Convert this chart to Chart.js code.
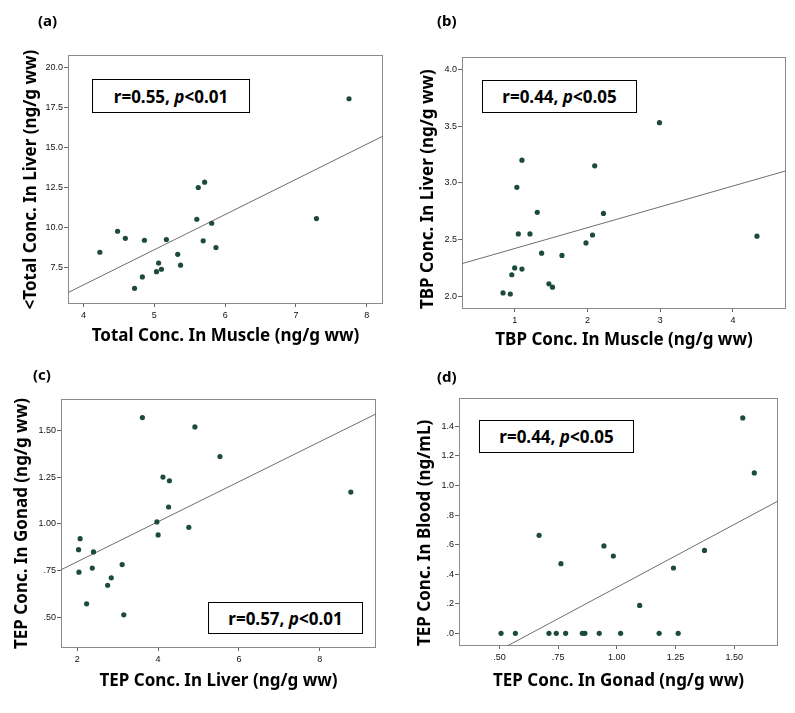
<!DOCTYPE html>
<html><head><meta charset="utf-8">
<script src="https://cdn.jsdelivr.net/npm/chart.js@4.4.1/dist/chart.umd.min.js"></script>
<style>
html,body{margin:0;padding:0;background:#fff;}
#wrap{position:relative;width:795px;height:713px;overflow:hidden;background:#fff;}
canvas{position:absolute;}
.lbl{position:absolute;font-family:"Noto Sans",sans-serif;font-weight:bold;font-size:15px;line-height:16px;color:#000;}
.box{position:absolute;border:1px solid #000;background:#fff;box-sizing:border-box;display:flex;align-items:center;justify-content:center;font-family:"Noto Sans",sans-serif;font-weight:bold;font-size:17px;white-space:nowrap;color:#000;}
</style></head>
<body><div id="wrap">
<canvas id="ca" width="397" height="355" style="left:0;top:0"></canvas>
<canvas id="cb" width="398" height="355" style="left:397px;top:0"></canvas>
<canvas id="cc" width="397" height="358" style="left:0;top:355px"></canvas>
<canvas id="cd" width="398" height="358" style="left:397px;top:355px"></canvas>
<div class="lbl" style="left:38px;top:12px">(a)</div>
<div class="lbl" style="left:437px;top:12px">(b)</div>
<div class="lbl" style="left:33px;top:366px">(c)</div>
<div class="lbl" style="left:437px;top:368px">(d)</div>
<div class="box" style="left:92px;top:79px;width:158px;height:34px">r=0.55,&nbsp;<i>p</i>&lt;0.01</div>
<div class="box" style="left:482px;top:80px;width:155px;height:33px">r=0.44,&nbsp;<i>p</i>&lt;0.05</div>
<div class="box" style="left:208px;top:602px;width:155px;height:32px">r=0.57,&nbsp;<i>p</i>&lt;0.01</div>
<div class="box" style="left:479px;top:420px;width:155px;height:33px">r=0.44,&nbsp;<i>p</i>&lt;0.05</div>
</div>
<script>
// ---------- (a) Total: muscle vs liver ----------
const aMuscle = [4.23,4.48,4.59,4.86,4.72,4.83,5.03,5.10,5.06,5.17,5.33,5.37,5.60,5.62,5.71,5.69,5.81,5.87,7.29,7.75];
const aLiver  = [8.48,9.79,9.35,9.23,6.23,6.94,7.27,7.42,7.81,9.27,8.35,7.67,10.54,12.52,12.85,9.19,10.29,8.77,10.58,18.06];
const aFitX = [3.78, 8.23];
const aFitY = [5.96, 15.73];
const aXTicks = [4,5,6,7,8];
const aXTickLabels = ['4','5','6','7','8'];
const aYTicks = [7.5,10,12.5,15,17.5,20];
const aYTickLabels = ['7.5','10.0','12.5','15.0','17.5','20.0'];

// ---------- (b) TBP: muscle vs liver ----------
const bMuscle = [0.84,0.94,0.96,1.00,1.10,1.05,1.03,1.10,1.21,1.31,1.37,1.47,1.52,1.65,1.98,2.07,2.10,2.22,2.99,4.33];
const bLiver  = [2.03,2.02,2.19,2.25,2.24,2.55,2.96,3.20,2.55,2.74,2.38,2.11,2.08,2.36,2.47,2.54,3.15,2.73,3.53,2.53];
const bFitX = [0.276, 4.729];
const bFitY = [2.288, 3.106];
const bXTicks = [1,2,3,4];
const bXTickLabels = ['1','2','3','4'];
const bYTicks = [2.0,2.5,3.0,3.5,4.0];
const bYTickLabels = ['2.0','2.5','3.0','3.5','4.0'];

// ---------- (c) TEP: liver vs gonad ----------
const cLiver = [2.03,2.07,2.04,2.23,2.37,2.40,2.75,2.84,3.11,3.15,3.61,3.97,4.00,4.12,4.26,4.28,4.76,4.91,5.53,8.77];
const cGonad = [0.862,0.921,0.741,0.571,0.763,0.850,0.671,0.711,0.782,0.512,1.571,1.011,0.941,1.252,1.091,1.232,0.982,1.521,1.362,1.171];
const cFitX = [1.596, 9.393];
const cFitY = [0.754, 1.591];
const cXTicks = [2,4,6,8];
const cXTickLabels = ['2','4','6','8'];
const cYTicks = [0.5,0.75,1.0,1.25,1.5];
const cYTickLabels = ['.50','.75','1.00','1.25','1.50'];

// ---------- (d) TEP: gonad vs blood ----------
const dGonad = [0.507,0.568,0.669,0.711,0.742,0.762,0.782,0.853,0.864,0.925,0.945,0.985,1.016,1.097,1.180,1.241,1.261,1.373,1.536,1.585];
const dBlood = [0,0,0.663,0,0,0.471,0,0,0,0,0.591,0.523,0,0.189,0,0.442,0,0.561,1.457,1.085];
const dFitX = [0.533, 1.686];
const dFitY = [-0.0857, 0.895];
const dXTicks = [0.5,0.75,1.0,1.25,1.5];
const dXTickLabels = ['.50','.75','1.00','1.25','1.50'];
const dYTicks = [0,0.2,0.4,0.6,0.8,1.0,1.2,1.4];
const dYTickLabels = ['.0','.2','.4','.6','.8','1.0','1.2','1.4'];

const TITLE_FONT = {family:'"Noto Sans", sans-serif', size:17, weight:'bold', lineHeight:1.2};
const TICK_FONT = {family:'"Liberation Sans", Arial, sans-serif', size:9};
const DOT = '#1d4b3b';

const boxPlugin = {
  id:'plotBox',
  beforeDatasetsDraw(chart){
    const {ctx, chartArea:a} = chart;
    ctx.save();
    ctx.strokeStyle = '#8a8a8a';
    ctx.lineWidth = 1;
    ctx.strokeRect(Math.round(a.left)+0.5, Math.round(a.top)+0.5, Math.round(a.right-a.left)-1, Math.round(a.bottom-a.top)-1);
    ctx.restore();
  }
};

function makePanel(id, p){
  const pts = p.xs.map((x,i)=>({x:x, y:p.ys[i]}));
  const fit = p.fx.map((x,i)=>({x:x, y:p.fy[i]}));
  new Chart(document.getElementById(id), {
    type:'scatter',
    data:{datasets:[
      {type:'line', data:fit, borderColor:'#6e6e6e', borderWidth:1, pointRadius:0, fill:false, tension:0, order:2},
      {data:pts, backgroundColor:DOT, borderColor:DOT, borderWidth:0, pointRadius:2.6, pointHoverRadius:2.6, order:1}
    ]},
    options:{
      responsive:false, devicePixelRatio:1, animation:false,
      layout:{padding:{left:0, top:p.padTop, right:p.padRight, bottom:0}},
      plugins:{legend:{display:false}, tooltip:{enabled:false}},
      events:[],
      scales:{
        x:{
          type:'linear', min:p.xmin, max:p.xmax,
          afterBuildTicks:s=>{ s.ticks = p.xt.map(v=>({value:v})); },
          afterFit:s=>{ s.height = p.xH; },
          ticks:{font:TICK_FONT, color:'#111', padding:3, maxRotation:0, autoSkip:false,
                 callback:(v,i)=>p.xl[i]},
          grid:{display:true, drawOnChartArea:false, drawTicks:true, tickLength:3, color:'#666'},
          border:{display:false},
          title:{display:true, text:p.xTitle, font:TITLE_FONT, color:'#000', padding:{top:0, bottom:p.xTitlePad}}
        },
        y:{
          type:'linear', min:p.ymin, max:p.ymax,
          afterBuildTicks:s=>{ s.ticks = p.yt.map(v=>({value:v})); },
          afterFit:s=>{ s.width = p.yW; },
          ticks:{font:TICK_FONT, color:'#111', padding:1, autoSkip:false,
                 callback:(v,i)=>p.yl[i]},
          grid:{display:true, drawOnChartArea:false, drawTicks:true, tickLength:4, color:'#666'},
          border:{display:false},
          title:{display:true, text:p.yTitle, font:TITLE_FONT, color:'#000', align:p.yAlign,
                 padding:{top:p.yTitlePad, bottom:0}}
        }
      }
    },
    plugins:[boxPlugin]
  });
}

makePanel('ca', {xs:aMuscle, ys:aLiver, fx:aFitX, fy:aFitY,
  xmin:3.78, xmax:8.23, ymin:5.25, ymax:20.79,
  xt:aXTicks, xl:aXTickLabels, yt:aYTicks, yl:aYTickLabels,
  padTop:55, padRight:14, yW:68, xH:51, xTitlePad:8.8, yTitlePad:21.3, yAlign:'center',
  xTitle:'Total Conc. In Muscle (ng/g ww)', yTitle:'<Total Conc. In Liver (ng/g ww)'});

makePanel('cb', {xs:bMuscle, ys:bLiver, fx:bFitX, fy:bFitY,
  xmin:0.276, xmax:4.729, ymin:1.888, ymax:4.109,
  xt:bXTicks, xl:bXTickLabels, yt:bYTicks, yl:bYTickLabels,
  padTop:57, padRight:9, yW:65, xH:46, xTitlePad:4.3, yTitlePad:20.5, yAlign:'start',
  xTitle:'TBP Conc. In Muscle (ng/g ww)', yTitle:'TBP Conc. In Liver (ng/g ww)'});

makePanel('cc', {xs:cLiver, ys:cGonad, fx:cFitX, fy:cFitY,
  xmin:1.596, xmax:9.393, ymin:0.334, ymax:1.671,
  xt:cXTicks, xl:cXTickLabels, yt:cYTicks, yl:cYTickLabels,
  padTop:44, padRight:21, yW:61, xH:65, xTitlePad:21.8, yTitlePad:11.5, yAlign:'center',
  xTitle:'TEP Conc. In Liver (ng/g ww)', yTitle:'TEP Conc. In Gonad (ng/g ww)'});

makePanel('cd', {xs:dGonad, ys:dBlood, fx:dFitX, fy:dFitY,
  xmin:0.328, xmax:1.686, ymin:-0.0857, ymax:1.592,
  xt:dXTicks, xl:dXTickLabels, yt:dYTicks, yl:dYTickLabels,
  padTop:43, padRight:17, yW:62, xH:67, xTitlePad:21.8, yTitlePad:17.8, yAlign:'start',
  xTitle:'TEP Conc. In Gonad (ng/g ww)', yTitle:'TEP Conc. In Blood (ng/mL)'});
</script>
</body></html>
